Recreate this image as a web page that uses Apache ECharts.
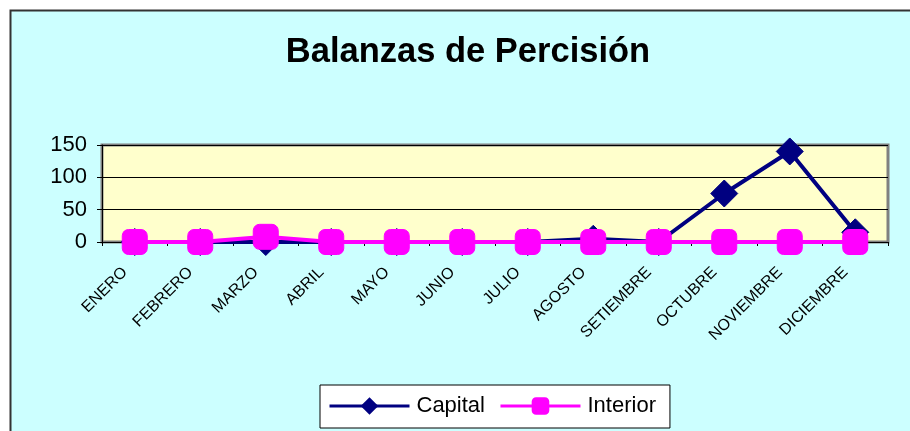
<!DOCTYPE html>
<html>
<head>
<meta charset="utf-8">
<script src="https://cdn.jsdelivr.net/npm/echarts@6/dist/echarts.min.js"></script>
<style>
html,body{margin:0;padding:0;background:#ffffff;}
#c{width:910px;height:431px;}
</style>
</head>
<body>
<div id="c"></div>
<script>
const titleText = 'Balanzas de Percisión';
const months = ['ENERO','FEBRERO','MARZO','ABRIL','MAYO','JUNIO','JULIO','AGOSTO','SETIEMBRE','OCTUBRE','NOVIEMBRE','DICIEMBRE'];
const capital = [0, 0, 0, 0, 0, 0, 0, 5, 0, 75, 140, 15];
const interior = [0, 0, 8, 0, 0, 0, 0, 0, 0, 0, 0, 0];
const yTicks = [0, 50, 100, 150];

const chart = echarts.init(document.getElementById('c'), null, {renderer: 'canvas'});
chart.setOption({
  animation: false,
  backgroundColor: 'transparent',
  textStyle: {fontFamily: 'Liberation Sans, Arial, sans-serif', color: '#000'},
  graphic: [{
    type: 'rect', z: -10, silent: true,
    shape: {x: 10.5, y: 10.5, width: 920, height: 440},
    style: {fill: '#CCFFFF', stroke: '#333333', lineWidth: 2}
  }],
  title: {
    text: titleText, left: 463, top: 30, textAlign: 'center',
    textStyle: {fontSize: 34.5, fontWeight: 'bold', color: '#000', fontFamily: 'Liberation Sans, Arial, sans-serif'}
  },
  legend: {
    left: 320, top: 385,
    padding: [10, 14, 11, 8],
    backgroundColor: '#FFFFFF', borderColor: '#000000', borderWidth: 1,
    itemWidth: 80, itemHeight: 22, itemGap: 14,
    lineStyle: {width: 3},
    textStyle: {fontSize: 22, color: '#000', padding: [0, 0, 0, 2]},
    data: ['Capital', 'Interior']
  },
  grid: {
    left: 102, right: 22, top: 145, bottom: 189,
    show: true, backgroundColor: '#FFFFCC', borderColor: '#808080', borderWidth: 3
  },
  xAxis: {
    type: 'category', data: months, boundaryGap: true,
    axisLine: {lineStyle: {color: '#000', width: 1}},
    axisTick: {show: true, length: 4, alignWithLabel: false, lineStyle: {color: '#000'}},
    axisLabel: {rotate: 45, fontSize: 16, color: '#000', margin: 18, interval: 0, padding: [0, 14, 0, 0]}
  },
  yAxis: {
    type: 'value', min: yTicks[0], max: yTicks[yTicks.length - 1], interval: 50,
    axisLine: {show: true, lineStyle: {color: '#000', width: 1}},
    axisTick: {show: true, length: 5, lineStyle: {color: '#000'}},
    axisLabel: {fontSize: 22, color: '#000', margin: 15},
    splitLine: {show: true, lineStyle: {color: '#000', width: 1}}
  },
  series: [{
    name: 'Capital', type: 'line', data: capital,
    symbol: 'diamond', symbolSize: 27,
    lineStyle: {color: '#000080', width: 4},
    itemStyle: {color: '#000080', borderColor: '#000080'},
    z: 2
  }, {
    name: 'Interior', type: 'line', data: interior,
    symbol: 'roundRect', symbolSize: 25,
    lineStyle: {color: '#FF00FF', width: 4},
    itemStyle: {color: '#FF00FF', borderColor: '#FF00FF'},
    z: 3
  }]
});
</script>
</body>
</html>
